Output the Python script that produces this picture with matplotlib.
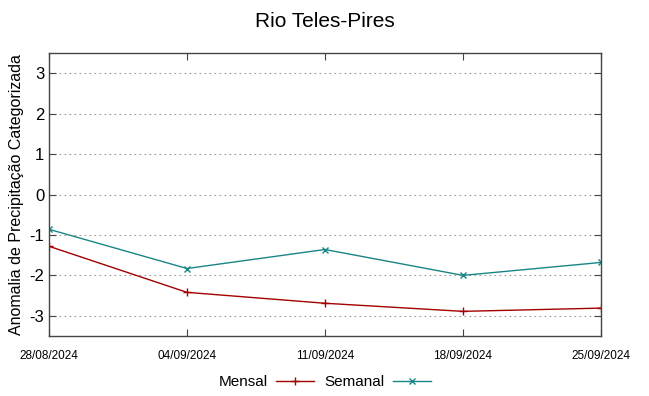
import matplotlib
matplotlib.use('Agg')
import matplotlib.pyplot as plt

plt.rcParams['font.family'] = ['Liberation Sans', 'DejaVu Sans']

datas = ['28/08/2024', '04/09/2024', '11/09/2024', '18/09/2024', '25/09/2024']
mensal = [-1.28, -2.42, -2.69, -2.89, -2.81]
semanal = [-0.86, -1.83, -1.36, -2.00, -1.68]
yticks = [-3, -2, -1, 0, 1, 2, 3]

fig = plt.figure(figsize=(6.49, 3.96), dpi=100)
ax = fig.add_axes([0.0755, 0.1515, 0.8505, 0.7145])

x = list(range(len(datas)))
ax.plot(x, mensal, color='#a40000', lw=1, marker='+', ms=6, mew=1, label='Mensal')
ax.plot(x, semanal, color='#1a8585', lw=1, marker='x', ms=5, mew=1, label='Semanal')

ax.set_xlim(0, len(datas) - 1)
ax.set_ylim(-3.5, 3.5)
ax.set_xticks(x)
ax.set_xticklabels(datas, fontsize=8.5)
ax.set_yticks(yticks)
ax.set_yticklabels([str(v) for v in yticks], fontsize=12)
ax.tick_params(direction='in', top=True, right=True, length=5, width=0.8, color='#444444')
ax.tick_params(axis='x', pad=10)
ax.grid(axis='y', linestyle=(0, (1.5, 3)), color='#999999', lw=0.8)
for s in ax.spines.values():
    s.set_color('#444444')
    s.set_linewidth(1)

ax.set_ylabel('Anomalia de Precipitação Categorizada', fontsize=11.5, labelpad=4)
fig.suptitle('Rio Teles-Pires', fontsize=15, y=0.97)

ax.legend(loc='center', bbox_to_anchor=(0.5, -0.163), ncol=2, frameon=False,
          markerfirst=False, fontsize=11, handlelength=2.5, columnspacing=0.7,
          handletextpad=0.5, borderpad=0.2)

fig.savefig('out.png', dpi=100)
